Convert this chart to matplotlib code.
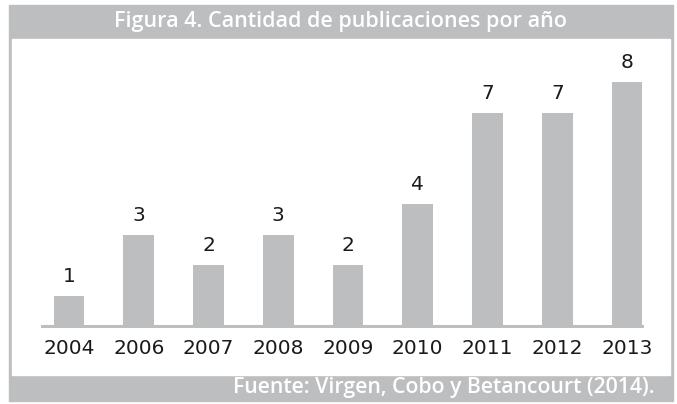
import matplotlib.pyplot as plt
from matplotlib.patches import Rectangle

years = ['2004', '2006', '2007', '2008', '2009', '2010', '2011', '2012', '2013']
counts = [1, 3, 2, 3, 2, 4, 7, 7, 8]
title = 'Figura 4. Cantidad de publicaciones por año'
source = 'Fuente: Virgen, Cobo y Betancourt (2014).'

gray = '#bdbec0'
W, H = 677, 404
plt.rcParams['font.family'] = ['Open Sans', 'DejaVu Sans']

fig = plt.figure(figsize=(W / 100, H / 100), dpi=100)

# frame, header and footer bands (pixel coords -> figure fraction)
def box(x0, y0, x1, y1, color):
    fig.patches.append(Rectangle((x0 / W, 1 - y1 / H), (x1 - x0) / W, (y1 - y0) / H,
                                 transform=fig.transFigure, color=color, zorder=-5))

box(9, 5, 673, 401, gray)
box(12, 39, 670, 375, 'white')
fig.text(341 / W, 1 - 22 / H, title, color='white', fontsize=15.5,
         fontweight='semibold', ha='center', va='center')
fig.text(655 / W, 1 - 388 / H, source, color='white', fontsize=15.3,
         fontweight='semibold', ha='right', va='center')

# plot area: baseline at y=326 px, ~30.5 px per unit
ax = fig.add_axes([42 / W, 78 / H, (642 - 42) / W, 274.5 / H])
ax.set_zorder(2)
x = range(len(years))
bars = ax.bar(x, counts, width=0.44, color=gray, zorder=2)
ax.bar_label(bars, labels=[str(c) for c in counts], padding=7, fontsize=14.5,
             family='DejaVu Sans', color='#1a1a1a')
ax.set_xlim(-0.387, 8.215)
ax.set_ylim(0, 9)
ax.set_xticks(list(x))
ax.set_xticklabels(years, fontsize=14.5, family='DejaVu Sans', color='#1a1a1a')
ax.tick_params(axis='x', length=0, pad=9)
ax.set_yticks([])
for s in ['top', 'left', 'right']:
    ax.spines[s].set_visible(False)
ax.spines['bottom'].set_color(gray)
ax.spines['bottom'].set_linewidth(2.2)
ax.set_facecolor('none')

fig.savefig('out.png', dpi=100)
